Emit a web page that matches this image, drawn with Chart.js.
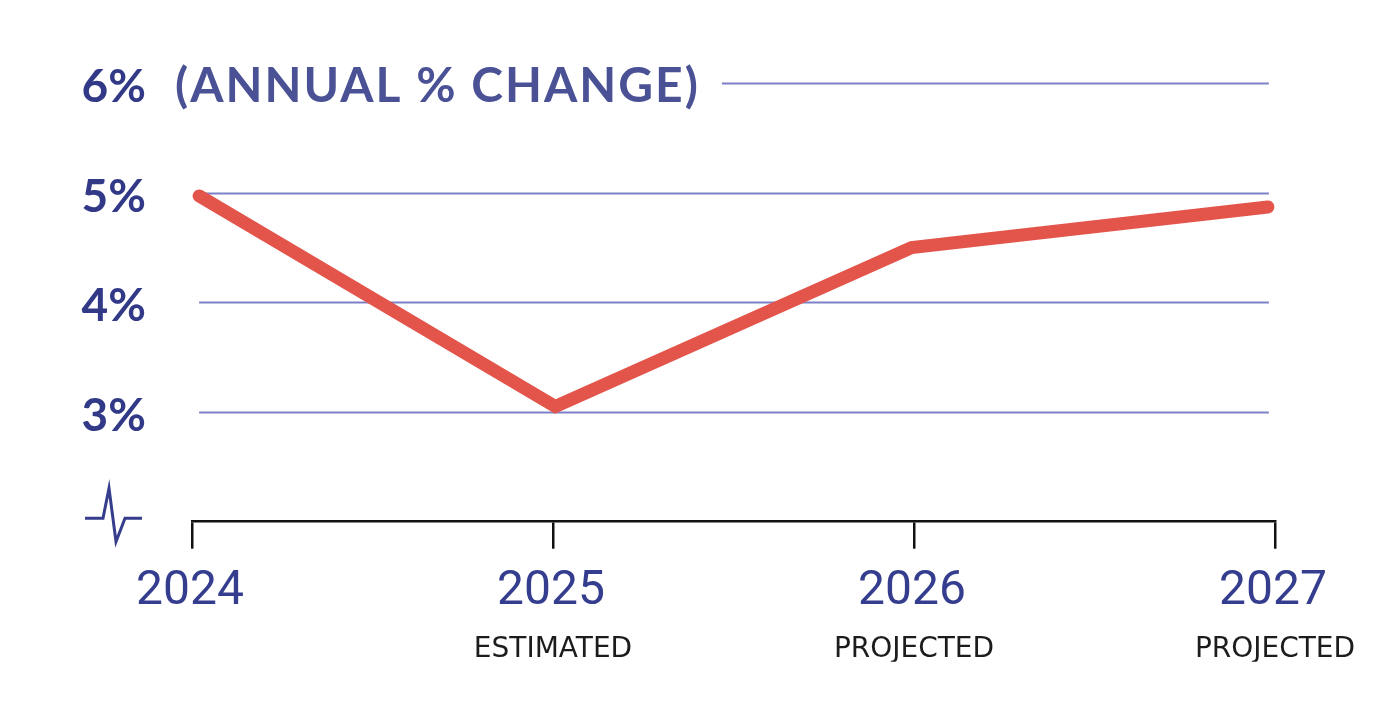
<!DOCTYPE html>
<html><head><meta charset="utf-8">
<script src="https://cdn.jsdelivr.net/npm/chart.js@4"></script>
<style>html,body{margin:0;padding:0;background:#fff;} #wrap{width:1386px;height:719px;position:relative;}</style>
</head><body><div id="wrap"><canvas id="c"></canvas></div>
<script>
const years = ['2024', '2025', '2026', '2027'];
const subLabels = ['', 'ESTIMATED', 'PROJECTED', 'PROJECTED'];
const growth = [4.97, 3.05, 4.5, 4.87];
const yTickValues = [3, 4, 5, 6];
const axisTitle = '(ANNUAL % CHANGE)';

const NAVY = '#323a88';
const TITLE_NAVY = '#4a5295';
const GRID = '#7c80c8';
const RED = '#e3544b';

const decorPlugin = {
  id: 'decor',
  beforeDatasetsDraw(chart) {
    const {ctx, chartArea} = chart;
    const y = chart.scales.y, xd = chart.scales.xd;
    const x0 = xd.getPixelForValue(2024), x1 = xd.getPixelForValue(2027) + 1;
    ctx.save();
    // title
    ctx.font = 'bold 48px Lato';
    ctx.fillStyle = TITLE_NAVY;
    ctx.textBaseline = 'middle';
    ctx.textAlign = 'left';
    let spacing = 2;
    if ('letterSpacing' in ctx) { ctx.letterSpacing = spacing + 'px'; } else { spacing = 0; }
    const tx = chartArea.left - 17;
    const ty = y.getPixelForValue(6) + 4;
    ctx.fillText(axisTitle, tx, ty);
    const tEnd = tx + ctx.measureText(axisTitle).width;
    if ('letterSpacing' in ctx) ctx.letterSpacing = '0px';
    // gridlines
    ctx.strokeStyle = GRID;
    ctx.lineWidth = 2;
    yTickValues.forEach(v => {
      const py = Math.round(y.getPixelForValue(v)) + 0.5;
      const s = v === 6 ? tEnd + 22 : x0;
      ctx.beginPath(); ctx.moveTo(s, py); ctx.lineTo(x1, py); ctx.stroke();
    });
    // axis break symbol
    const by = y.getPixelForValue(2) - 3.4;
    const bx = chartArea.left;
    ctx.strokeStyle = '#353d8c';
    ctx.lineWidth = 3;
    ctx.lineJoin = 'miter';
    ctx.beginPath();
    ctx.moveTo(bx - 107, by);
    ctx.lineTo(bx - 89, by);
    ctx.lineTo(bx - 83, by - 30);
    ctx.lineTo(bx - 76, by + 23.4);
    ctx.lineTo(bx - 67, by);
    ctx.lineTo(bx - 50, by);
    ctx.stroke();
    ctx.restore();
  }
};

new Chart(document.getElementById('c'), {
  type: 'line',
  data: {
    labels: years,
    datasets: [{
      data: years.map((yr, i) => ({x: +yr, y: growth[i]})),
      xAxisID: 'xd',
      yAxisID: 'y',
      borderColor: RED,
      borderWidth: 13,
      borderCapStyle: 'round',
      borderJoinStyle: 'miter',
      pointRadius: 0,
      pointHoverRadius: 0,
      tension: 0,
      fill: false
    }]
  },
  options: {
    responsive: true,
    maintainAspectRatio: false,
    animation: false,
    events: [],
    layout: {padding: {left: 0, right: 111, top: 83, bottom: 57.3}},
    plugins: {legend: {display: false}, tooltip: {enabled: false}, title: {display: false}},
    scales: {
      xd: {
        type: 'linear', display: false, min: 2023.98, max: 2027.02
      },
      x: {
        type: 'category',
        position: 'bottom',
        offset: false,
        grid: {display: true, drawOnChartArea: false, drawTicks: true, tickLength: 27, color: '#111', lineWidth: 2.5},
        border: {display: true, color: '#111', width: 2.5},
        ticks: {color: '#343d8e', font: {family: 'Roboto', size: 48, weight: 'normal'}, padding: 14, labelOffset: -2, maxRotation: 0, autoSkip: false},
        afterFit(s) { s.height = 100; s.paddingLeft = 0; s.paddingRight = 0; }
      },
      x2: {
        type: 'category',
        position: 'bottom',
        offset: false,
        labels: subLabels,
        grid: {display: false, drawTicks: false},
        border: {display: false},
        ticks: {color: '#1c1c1c', font: {family: 'DejaVu Sans', size: 28, weight: 'normal'}, padding: 11, maxRotation: 0, autoSkip: false},
        afterFit(s) { s.height = 40; s.paddingLeft = 0; s.paddingRight = 0; }
      },
      y: {
        type: 'linear',
        position: 'left',
        min: 2, max: 6,
        grid: {display: false, drawTicks: false},
        border: {display: false},
        ticks: {
          stepSize: 1,
          color: NAVY,
          font: {family: 'Lato', size: 46, weight: 'bold'},
          padding: 46,
          labelOffset: 4,
          callback: v => (v === 2 ? '' : v + '%')
        },
        afterFit(s) { s.width = 192; s.paddingTop = 0; s.paddingBottom = 0; }
      }
    }
  },
  plugins: [decorPlugin]
});
</script>
</body></html>
